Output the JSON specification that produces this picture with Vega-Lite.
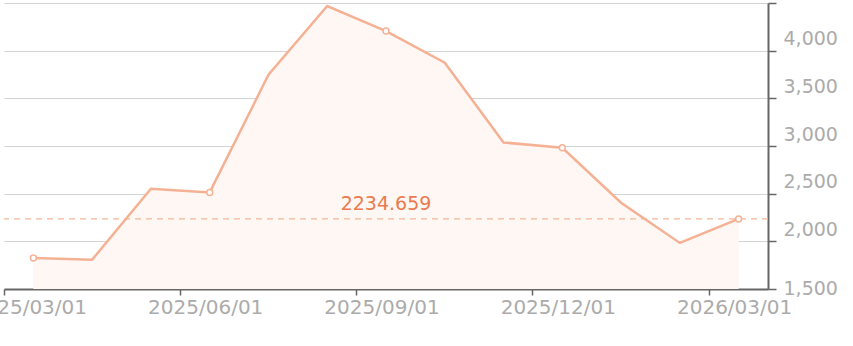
{
  "$schema": "https://vega.github.io/schema/vega-lite/v6.json",
  "width": 764,
  "height": 286,
  "autosize": {"type": "none"},
  "padding": {"left": 4, "top": 3, "right": 85, "bottom": 57},
  "background": "white",
  "config": {
    "view": {"stroke": null},
    "font": "DejaVu Sans"
  },
  "datasets": {
    "series": [
      {"date": "2025/03/01", "value": 1826},
      {"date": "2025/04/01", "value": 1808},
      {"date": "2025/05/01", "value": 2552},
      {"date": "2025/06/01", "value": 2513},
      {"date": "2025/07/01", "value": 3747},
      {"date": "2025/08/01", "value": 4468},
      {"date": "2025/09/01", "value": 4206},
      {"date": "2025/10/01", "value": 3874},
      {"date": "2025/11/01", "value": 3037},
      {"date": "2025/12/01", "value": 2981},
      {"date": "2026/01/01", "value": 2405},
      {"date": "2026/02/01", "value": 1983},
      {"date": "2026/03/01", "value": 2234.659}
    ],
    "reference": [
      {"date": "2025/09/01", "ref": 2234.659, "label": "2234.659"}
    ]
  },
  "data": {"name": "series"},
  "encoding": {
    "x": {
      "field": "date",
      "type": "ordinal",
      "bandPosition": 0.5,
      "scale": {"type": "band", "paddingInner": 0, "paddingOuter": 0},
      "axis": {
        "title": null,
        "values": ["2025/03/01", "2025/06/01", "2025/09/01", "2025/12/01", "2026/03/01"],
        "bandPosition": 0,
        "labelOffset": -4,
        "labelAngle": 0,
        "labelAlign": "center",
        "labelFont": "DejaVu Sans",
        "labelFontSize": 20,
        "labelColor": "#ababab",
        "labelPadding": 2,
        "tickSize": 6,
        "tickColor": "#666666",
        "tickWidth": 1.5,
        "domainColor": "#666666",
        "domainWidth": 2,
        "grid": false
      }
    }
  },
  "layer": [
    {
      "mark": {"type": "area", "color": "#fff7f3", "opacity": 1},
      "encoding": {
        "y": {
          "field": "value",
          "type": "quantitative",
          "scale": {"domain": [1500, 4500], "zero": false, "nice": false},
          "axis": {
            "orient": "right",
            "title": null,
            "values": [1500, 2000, 2500, 3000, 3500, 4000, 4500],
            "format": ",d",
            "labelFont": "DejaVu Sans",
            "labelFontSize": 19,
            "labelColor": "#ababab",
            "labelBaseline": "alphabetic",
            "labelOffset": {"condition": {"test": "datum.value <= 1500", "value": 5}, "value": -6},
            "labelPadding": 7,
            "tickSize": 8,
            "tickColor": "#666666",
            "tickWidth": 1.5,
            "domainColor": "#666666",
            "domainWidth": 2,
            "grid": true,
            "gridColor": "#d3d3d3",
            "gridWidth": 1
          }
        },
        "y2": {"datum": 1500}
      }
    },
    {
      "data": {"name": "reference"},
      "mark": {"type": "rule", "color": "#f6b597", "strokeWidth": 1.2, "strokeDash": [6, 5]},
      "encoding": {
        "x": null,
        "y": {"field": "ref", "type": "quantitative"}
      }
    },
    {
      "mark": {"type": "line", "color": "#f5b194", "strokeWidth": 2.5},
      "encoding": {
        "y": {"field": "value", "type": "quantitative"}
      }
    },
    {
      "transform": [
        {"filter": {"field": "date", "oneOf": ["2025/03/01", "2025/06/01", "2025/09/01", "2025/12/01", "2026/03/01"]}}
      ],
      "mark": {"type": "point", "shape": "circle", "filled": true, "fill": "white", "stroke": "#f5b194", "strokeWidth": 1.5, "size": 35, "opacity": 1},
      "encoding": {
        "y": {"field": "value", "type": "quantitative"}
      }
    },
    {
      "data": {"name": "reference"},
      "mark": {"type": "text", "color": "#ec7a4f", "font": "DejaVu Sans", "fontSize": 19, "baseline": "alphabetic", "align": "center", "dy": -9},
      "encoding": {
        "y": {"field": "ref", "type": "quantitative"},
        "text": {"field": "label"}
      }
    }
  ]
}
